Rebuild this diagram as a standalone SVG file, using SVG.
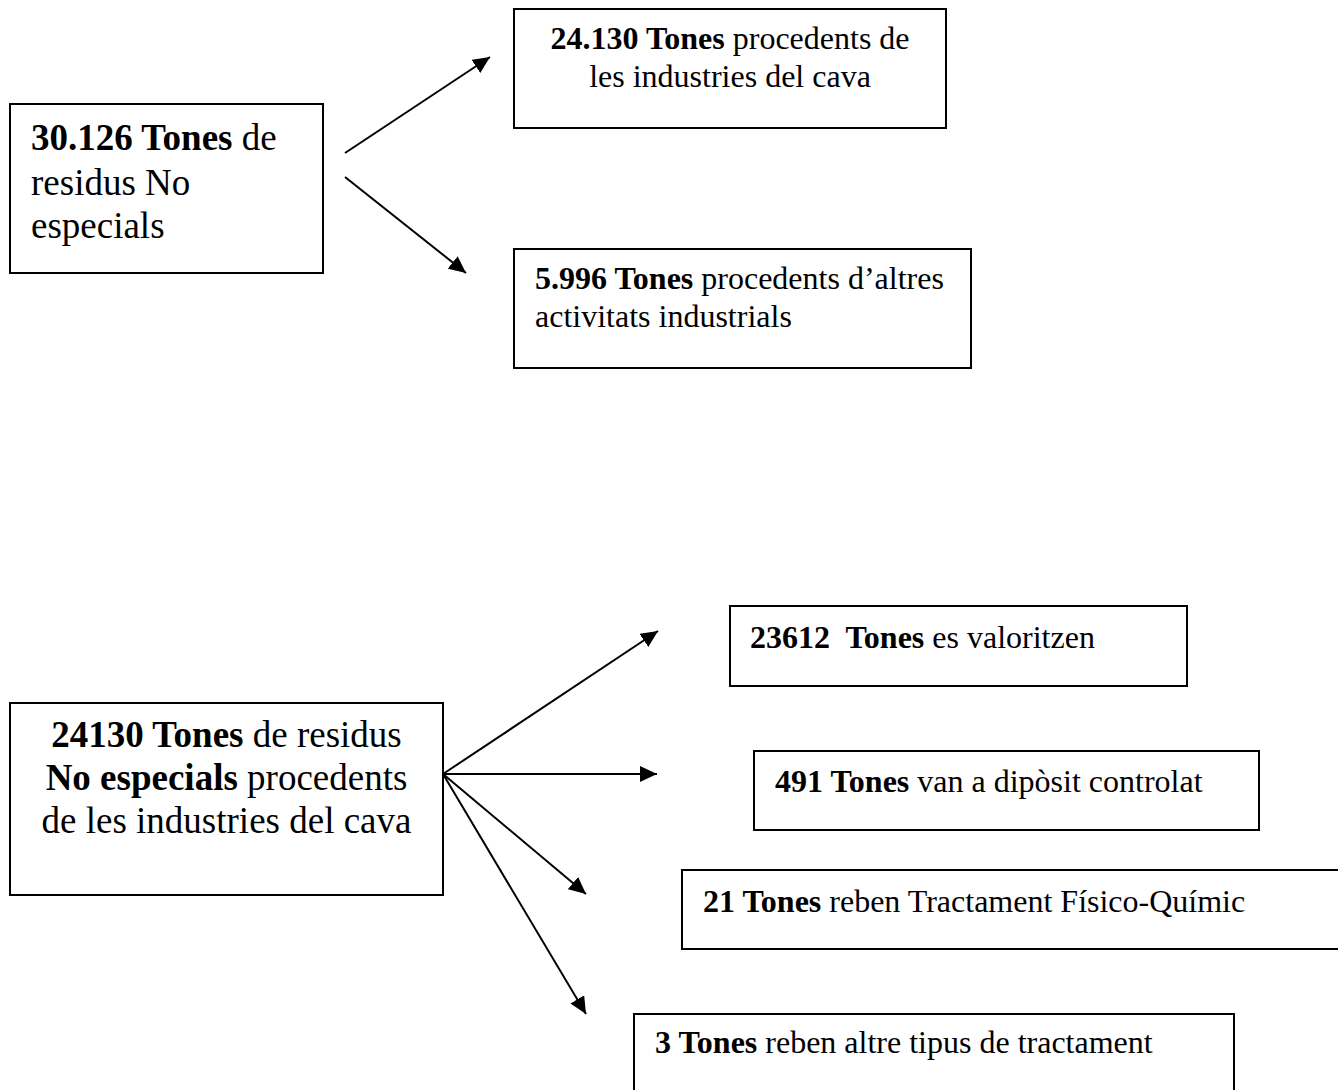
<svg xmlns="http://www.w3.org/2000/svg" width="1338" height="1090" viewBox="0 0 1338 1090">
<style>
.box{fill:#fff;stroke:#000;stroke-width:2}
.t{font-family:"Liberation Serif","Times New Roman",serif;fill:#000;white-space:pre}
.b{font-weight:bold}
.f37{font-size:37px}
.f32{font-size:32px}
.conn line{stroke:#000;stroke-width:2;marker-end:url(#ah)}
</style>
<defs>
<marker id="ah" viewBox="0 0 17 16" refX="17" refY="8" markerWidth="17" markerHeight="16" markerUnits="userSpaceOnUse" orient="auto">
<path d="M0,0 L17,8 L0,16 z" fill="#000"/>
</marker>
</defs>
<rect width="1338" height="1090" fill="#fff"/>
<g id="n_total">
<rect class="box" x="10" y="104" width="313" height="169"/>
<text class="t f37" x="31" y="150"><tspan class="b">30.126 Tones</tspan> de</text>
<text class="t f37" x="31" y="195">residus No</text>
<text class="t f37" x="31" y="238">especials</text>
</g>
<g id="n_cava">
<rect class="box" x="514" y="9" width="432" height="119"/>
<text class="t f32" x="730" y="49" text-anchor="middle"><tspan class="b">24.130 Tones</tspan> procedents de</text>
<text class="t f32" x="730" y="87" text-anchor="middle">les industries del cava</text>
</g>
<g id="n_altres">
<rect class="box" x="514" y="249" width="457" height="119"/>
<text class="t f32" x="535" y="289"><tspan class="b">5.996 Tones</tspan> procedents d’altres</text>
<text class="t f32" x="535" y="327">activitats industrials</text>
</g>
<g id="n_cava2">
<rect class="box" x="10" y="703" width="433" height="192"/>
<text class="t f37" x="226.5" y="747" text-anchor="middle"><tspan class="b">24130 Tones</tspan> de residus</text>
<text class="t f37" x="226.5" y="790" text-anchor="middle"><tspan class="b">No especials</tspan> procedents</text>
<text class="t f37" x="226.5" y="833" text-anchor="middle">de les industries del cava</text>
</g>
<g id="n_valor">
<rect class="box" x="730" y="606" width="457" height="80"/>
<text class="t f32" x="750" y="648"><tspan class="b">23612  Tones</tspan> es valoritzen</text>
</g>
<g id="n_diposit">
<rect class="box" x="754" y="751" width="505" height="79"/>
<text class="t f32" x="775" y="792"><tspan class="b">491 Tones</tspan> van a dipòsit controlat</text>
</g>
<g id="n_fq">
<rect class="box" x="682" y="870" width="680" height="79"/>
<text class="t f32" x="703" y="912"><tspan class="b">21 Tones</tspan> reben Tractament Físico-Químic</text>
</g>
<g id="n_altre">
<rect class="box" x="634" y="1014" width="600" height="100"/>
<text class="t f32" x="655" y="1053"><tspan class="b">3 Tones</tspan> reben altre tipus de tractament</text>
</g>
<g id="connectors" class="conn">
<line x1="345" y1="153" x2="490" y2="57"/>
<line x1="345" y1="177" x2="466" y2="273"/>
<line x1="443" y1="774" x2="658" y2="631"/>
<line x1="443" y1="774" x2="657" y2="774"/>
<line x1="443" y1="774" x2="586" y2="894"/>
<line x1="443" y1="774" x2="586" y2="1014"/>
</g>
</svg>
